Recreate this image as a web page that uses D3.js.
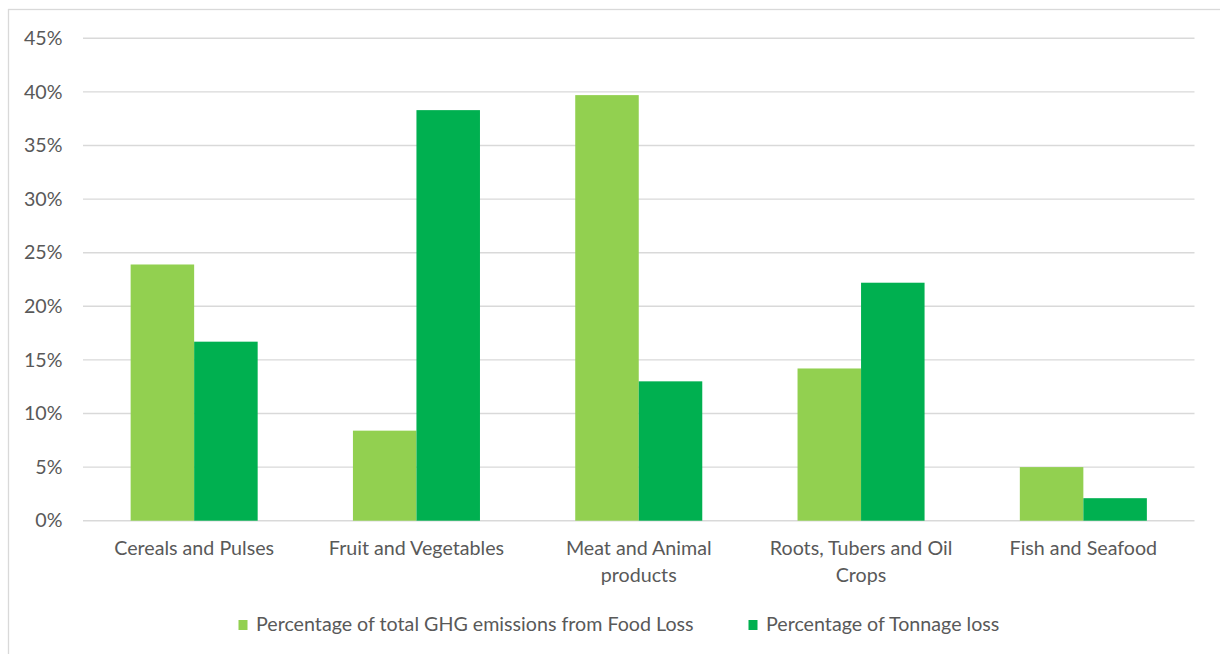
<!DOCTYPE html>
<html>
<head>
<meta charset="utf-8">
<script src="https://cdn.jsdelivr.net/npm/d3@7"></script>
<style>
  html, body { margin: 0; padding: 0; background: #fff; }
  svg { display: block; }
</style>
</head>
<body>
<svg id="chart" width="1220" height="654"></svg>
<script>
// ---- data ----
const categories = ["Cereals and Pulses", "Fruit and Vegetables", "Meat and Animal products", "Roots, Tubers and Oil Crops", "Fish and Seafood"];
const seriesNames = ["Percentage of total GHG emissions from Food Loss", "Percentage of Tonnage loss"];
const ghgEmissions = [0.239, 0.084, 0.397, 0.142, 0.050];
const tonnageLoss = [0.167, 0.383, 0.130, 0.222, 0.021];
const yTicks = [0, 0.05, 0.10, 0.15, 0.20, 0.25, 0.30, 0.35, 0.40, 0.45];
const seriesColors = ["#92D050", "#00B050"];

// ---- setup ----
const svg = d3.select("#chart");
const W = 1220, H = 654;
const textColor = "#595959";
const gridColor = "#d9d9d9";
const fontFamily = "Lato, 'Open Sans', sans-serif";

// size the font so the legend text width matches the original (Calibri-like metrics)
const probe = svg.append("text").attr("font-family", fontFamily).attr("font-size", 20).text(seriesNames[0]);
const probeW = probe.node().getComputedTextLength();
probe.remove();
const fontSize = Math.min(20, Math.max(14, 20 * 438 / probeW));

// chart border
svg.append("rect")
  .attr("x", 8.5).attr("y", 9.5)
  .attr("width", W).attr("height", H)
  .attr("fill", "#fff")
  .attr("stroke", gridColor).attr("stroke-width", 1.3);

const plot = { left: 83, right: 1194.5, top: 38.3, bottom: 520.7 };

const x0 = d3.scaleBand().domain(categories).range([plot.left, plot.right]).paddingInner(0).paddingOuter(0);
const x1 = d3.scaleBand().domain(seriesNames).range([0, x0.bandwidth()]).paddingInner(0).paddingOuter(0.75);
const y = d3.scaleLinear().domain([0, 0.45]).range([plot.bottom, plot.top]);

// gridlines
svg.append("g")
  .selectAll("line")
  .data(yTicks)
  .join("line")
  .attr("x1", plot.left).attr("x2", plot.right)
  .attr("y1", d => y(d)).attr("y2", d => y(d))
  .attr("stroke", gridColor).attr("stroke-width", 1.4);

// y axis labels via d3 axis
const yAxis = d3.axisLeft(y).tickValues(yTicks).tickFormat(d3.format(".0%")).tickSize(0).tickPadding(0);
const yg = svg.append("g").attr("transform", `translate(${62.5},0)`).call(yAxis);
yg.select(".domain").remove();
yg.selectAll("text")
  .attr("font-family", fontFamily)
  .attr("font-size", fontSize)
  .attr("fill", textColor);

// bars
const seriesData = [ghgEmissions, tonnageLoss];
const groups = svg.append("g")
  .selectAll("g")
  .data(categories)
  .join("g")
  .attr("transform", d => `translate(${x0(d)},0)`);

groups.selectAll("rect")
  .data((c, i) => seriesNames.map((s, j) => ({ s, v: seriesData[j][i], j })))
  .join("rect")
  .attr("x", d => x1(d.s))
  .attr("width", x1.bandwidth())
  .attr("y", d => y(d.v))
  .attr("height", d => y(0) - y(d.v))
  .attr("fill", d => seriesColors[d.j]);

// x axis category labels (wrapped)
const xAxis = d3.axisBottom(x0).tickSize(0).tickPadding(0);
const xg = svg.append("g").attr("transform", `translate(0,${plot.bottom})`).call(xAxis);
xg.select(".domain").remove();
const maxLabelW = 205 * fontSize / 19;
xg.selectAll("text")
  .attr("font-family", fontFamily)
  .attr("font-size", fontSize)
  .attr("fill", textColor)
  .attr("y", 0).attr("dy", 0)
  .each(function(d) {
    const t = d3.select(this);
    const words = d.split(" ");
    t.text(null);
    let lines = [], line = [];
    let tspan = t.append("tspan");
    words.forEach(w => {
      line.push(w);
      tspan.text(line.join(" "));
      if (tspan.node().getComputedTextLength() > maxLabelW && line.length > 1) {
        line.pop();
        lines.push(line.join(" "));
        line = [w];
      }
      tspan.text(line.join(" "));
    });
    lines.push(line.join(" "));
    t.text(null);
    lines.forEach((l, i) => {
      t.append("tspan").attr("x", 0).attr("y", 34.5 + i * 26.5).text(l);
    });
  });

// legend
const legend = svg.append("g").attr("font-family", fontFamily).attr("font-size", fontSize).attr("fill", textColor);
const legendX = [238.5, 748.5];
seriesNames.forEach((s, j) => {
  const g = legend.append("g").attr("transform", `translate(${legendX[j]},0)`);
  g.append("rect").attr("x", 0).attr("y", 620).attr("width", 9).attr("height", 10).attr("fill", seriesColors[j]);
  g.append("text").attr("x", 17.5).attr("y", 631).text(s);
});
</script>
</body>
</html>
